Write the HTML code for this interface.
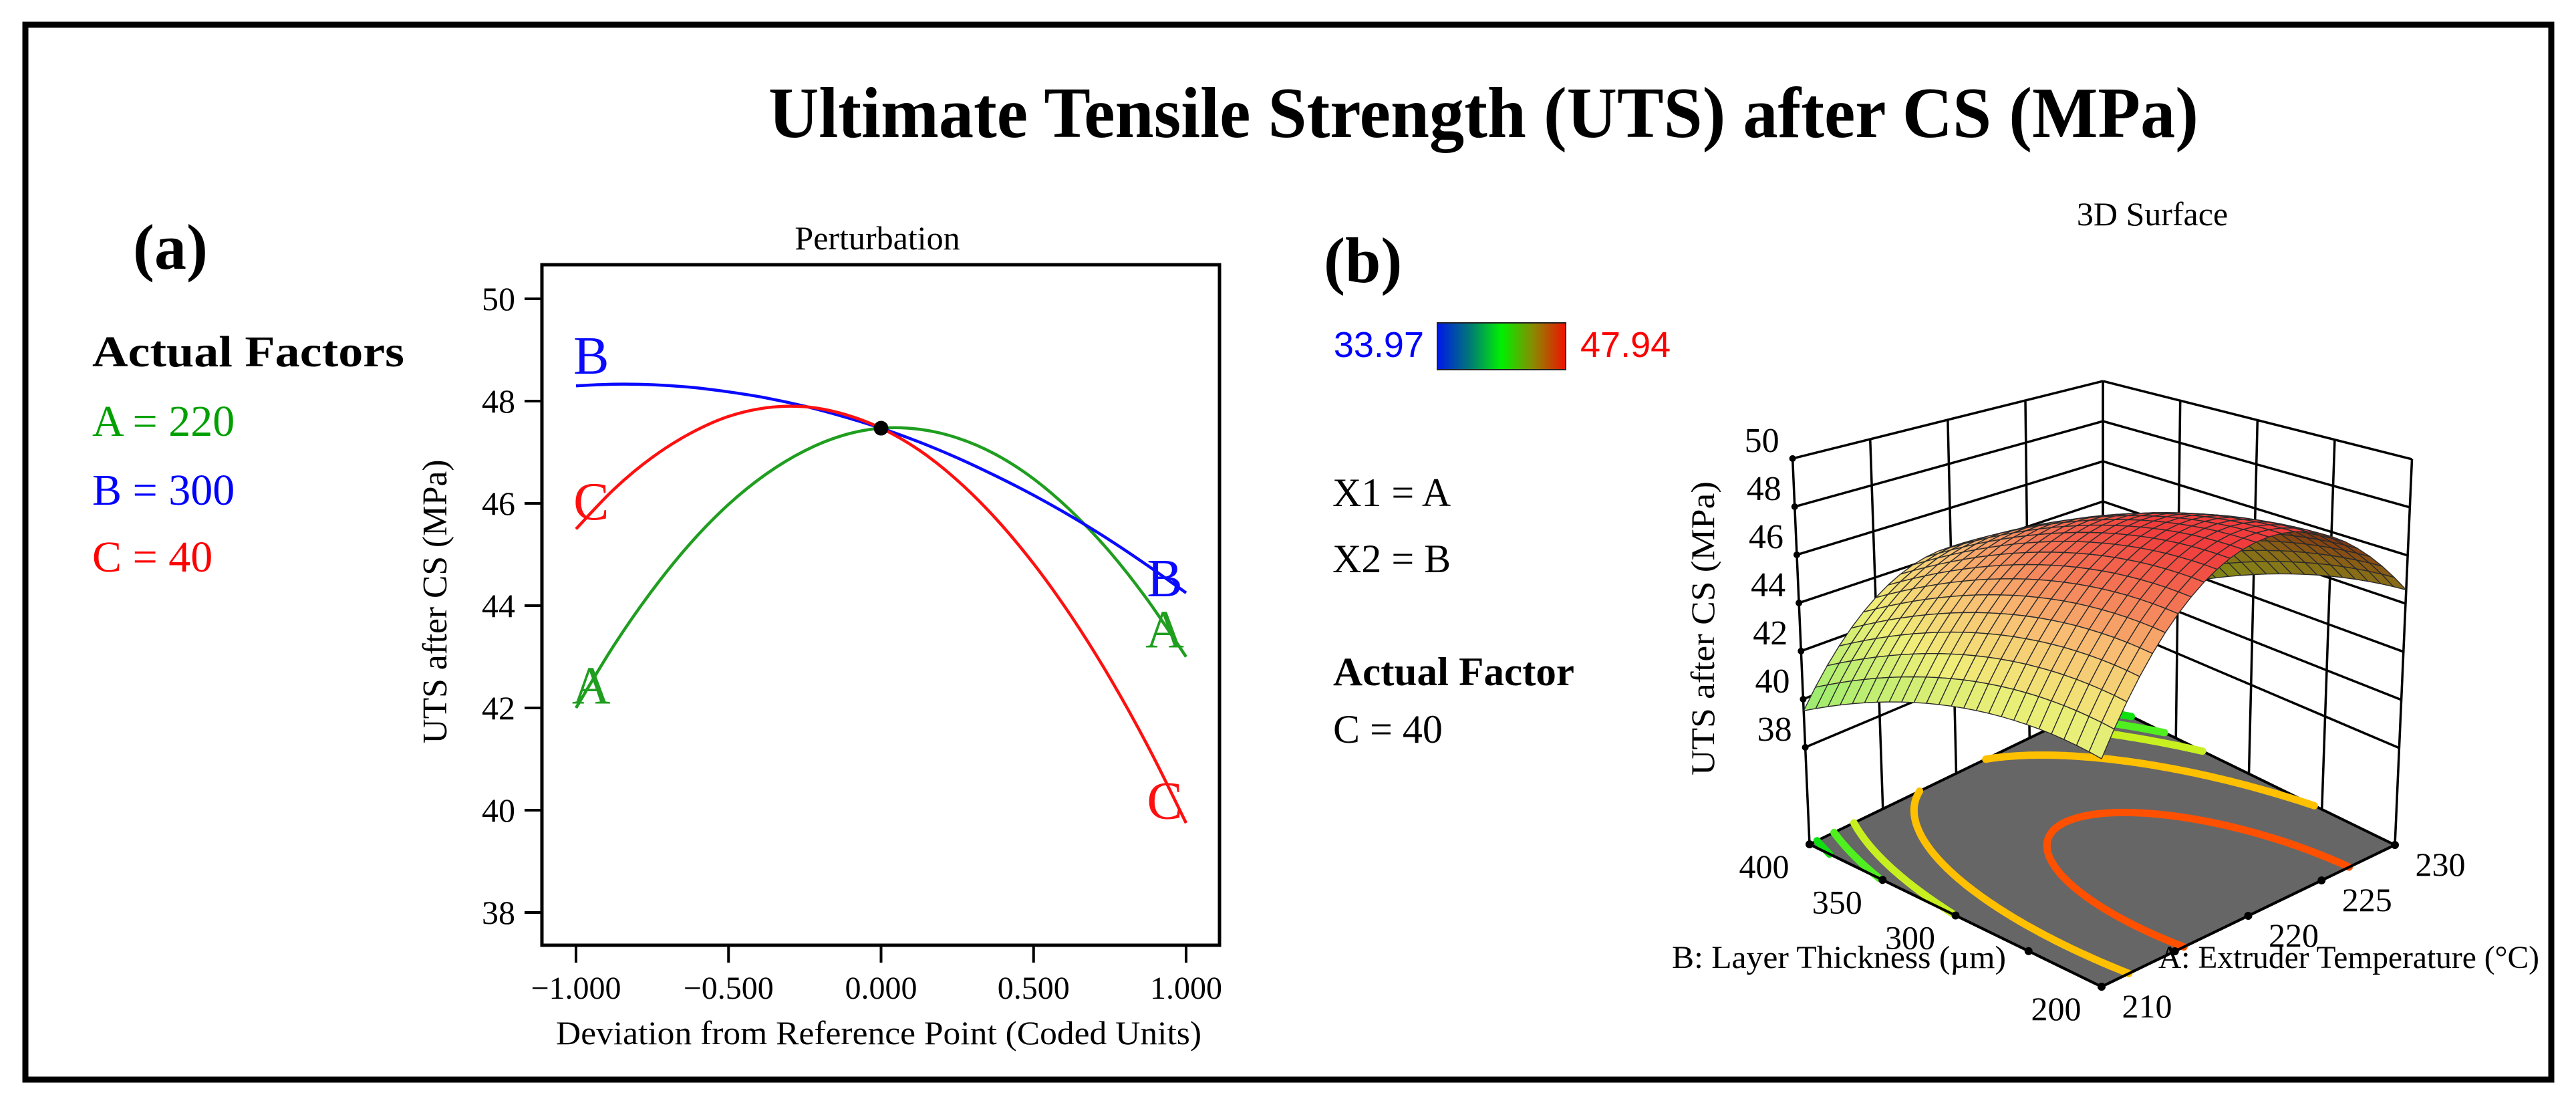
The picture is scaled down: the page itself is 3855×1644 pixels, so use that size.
<!DOCTYPE html>
<html><head><meta charset="utf-8">
<style>
html,body{margin:0;padding:0;background:#fff;}
svg{display:block;}
text{font-family:"Liberation Serif",serif;}
.sans{font-family:"Liberation Sans",sans-serif;}
</style></head>
<body>
<svg id="chart" width="3855" height="1644" viewBox="0 0 3855 1644" xmlns="http://www.w3.org/2000/svg" font-family="Liberation Serif, serif">
<defs>
<linearGradient id="cbar" x1="0" x2="1" y1="0" y2="0">
<stop offset="0" stop-color="#0018e8"/><stop offset="0.25" stop-color="#007878"/><stop offset="0.5" stop-color="#00f000"/><stop offset="0.75" stop-color="#8a8a00"/><stop offset="1" stop-color="#f01000"/>
</linearGradient>
</defs>
<rect x="38" y="37" width="3780" height="1578" fill="#fff" stroke="#000" stroke-width="9"/>
<text x="1150" y="205" font-size="108" font-weight="bold" textLength="2140" lengthAdjust="spacingAndGlyphs">Ultimate Tensile Strength (UTS) after CS (MPa)</text>
<text x="199" y="402" font-size="96" font-weight="bold">(a)</text>
<text x="138" y="548" font-size="66" font-weight="bold" textLength="467" lengthAdjust="spacingAndGlyphs">Actual Factors</text>
<text x="138" y="652" font-size="66" fill="#00a000">A = 220</text>
<text x="138" y="755" font-size="66" fill="#0000ff">B = 300</text>
<text x="138" y="855" font-size="66" fill="#ff0000">C = 40</text>
<text x="1313" y="373" font-size="50" text-anchor="middle">Perturbation</text>
<g id="pert"></g>
<text x="1981" y="422" font-size="96" font-weight="bold">(b)</text>
<text x="3221" y="337" font-size="50" text-anchor="middle">3D Surface</text>
<text class="sans" x="2131" y="534" font-size="54" fill="#0000ff" text-anchor="end">33.97</text>
<rect x="2151" y="483" width="192" height="70" fill="url(#cbar)" stroke="#222" stroke-width="2"/>
<text class="sans" x="2365" y="534" font-size="54" fill="#ff0000">47.94</text>
<text x="1994" y="757" font-size="60">X1 = A</text>
<text x="1994" y="856" font-size="60">X2 = B</text>
<text x="1995" y="1025" font-size="60" font-weight="bold" textLength="361" lengthAdjust="spacingAndGlyphs">Actual Factor</text>
<text x="1995" y="1111" font-size="60">C = 40</text>
<g id="surf"></g>
</svg>
<script>
// ---------- Perturbation data ----------
const devX = [-1,-0.875,-0.75,-0.625,-0.5,-0.375,-0.25,-0.125,0,0.125,0.25,0.375,0.5,0.625,0.75,0.875,1];
const seriesA = [42.00,43.23,44.30,45.22,45.98,46.58,47.03,47.33,47.47,47.45,47.28,46.96,46.48,45.84,45.05,44.10,43.00];
const seriesB = [48.30,48.33,48.32,48.27,48.18,48.06,47.90,47.70,47.47,47.20,46.89,46.54,46.16,45.74,45.28,44.78,44.25];
const seriesC = [45.50,46.28,46.90,47.37,47.70,47.87,47.89,47.75,47.47,47.04,46.45,45.71,44.82,43.78,42.59,41.25,39.75];
const yTicks = [38,40,42,44,46,48,50];
const xTicks = [-1,-0.5,0,0.5,1];
const xTickLabels = ["\u22121.000","\u22120.500","0.000","0.500","1.000"];
const refPoint = [0, 47.47];

// ---------- 3D surface model (coded units) ----------
const modelTerms = ["b0","A","B","AB","A2","B2"];
const modelCoef = [47.47, 0.5, -2.025, -0.74, -4.97, -1.195];
const zTicks = [38,40,42,44,46,48,50];
const aTicks = [210,215,220,225,230];
const aTickLabels = ["210","","220","225","230"];
const bTicks = [200,250,300,350,400];
const bTickLabels = ["200","","300","350","400"];
const contourLevels = [40,41,42,44,46.8];
const contourColors = ["#10e010","#50f020","#c8f020","#ffc000","#ff5000"];
const Z_MIN = 33.97, Z_MAX = 50;

const NS = "http://www.w3.org/2000/svg";
function mk(tag, parent){ const e=document.createElementNS(NS,tag); parent.appendChild(e); return e; }

// ---------- Perturbation plot ----------
const pert = document.getElementById('pert');
const xS = v => 862 + (v+1)*456.5;
const yS = v => 447 + (50-v)*76.5;

const frame = mk('rect', pert);


frame.setAttribute('x',811); frame.setAttribute('y',396); frame.setAttribute('width',1014); frame.setAttribute('height',1018);
frame.setAttribute('fill','none'); frame.setAttribute('stroke','#000'); frame.setAttribute('stroke-width','5');

yTicks.forEach(v=>{
  const t = mk('line', pert);
  
  
  t.setAttribute('x1',785); t.setAttribute('x2',811); t.setAttribute('y1',yS(v)); t.setAttribute('y2',yS(v));
  t.setAttribute('stroke','#000'); t.setAttribute('stroke-width','4');
  const l = mk('text', pert);
  
  
  l.setAttribute('x',771); l.setAttribute('y',yS(v)+17); l.setAttribute('font-size','50'); l.setAttribute('text-anchor','end');
  l.textContent = String(v);
});
xTicks.forEach((v,i)=>{
  const t = mk('line', pert);
  
  
  t.setAttribute('x1',xS(v)); t.setAttribute('x2',xS(v)); t.setAttribute('y1',1414); t.setAttribute('y2',1440);
  t.setAttribute('stroke','#000'); t.setAttribute('stroke-width','4');
  const l = mk('text', pert);
  
  
  l.setAttribute('x',xS(v)); l.setAttribute('y',1494); l.setAttribute('font-size','48'); l.setAttribute('text-anchor','middle');
  l.textContent = xTickLabels[i];
});
const xt = mk('text', pert);


xt.setAttribute('x',1315); xt.setAttribute('y',1562); xt.setAttribute('font-size','50'); xt.setAttribute('text-anchor','middle');
xt.setAttribute('textLength','966'); xt.setAttribute('lengthAdjust','spacingAndGlyphs');
xt.textContent = 'Deviation from Reference Point (Coded Units)';
const yt = mk('text', pert);


yt.setAttribute('transform','translate(668,900) rotate(-90)');
yt.setAttribute('font-size','52'); yt.setAttribute('text-anchor','middle');
yt.setAttribute('textLength','425'); yt.setAttribute('lengthAdjust','spacingAndGlyphs');
yt.textContent = 'UTS after CS (MPa)';

function smoothPath(xs, ys){
  const p = xs.map((x,i)=>[xS(x), yS(ys[i])]);
  let d = 'M'+p[0][0].toFixed(1)+','+p[0][1].toFixed(1);
  for(let i=0;i<p.length-1;i++){
    const p0=p[Math.max(0,i-1)], p1=p[i], p2=p[i+1], p3=p[Math.min(p.length-1,i+2)];
    const c1=[p1[0]+(p2[0]-p0[0])/6, p1[1]+(p2[1]-p0[1])/6];
    const c2=[p2[0]-(p3[0]-p1[0])/6, p2[1]-(p3[1]-p1[1])/6];
    d += ' C'+c1[0].toFixed(1)+','+c1[1].toFixed(1)+' '+c2[0].toFixed(1)+','+c2[1].toFixed(1)+' '+p2[0].toFixed(1)+','+p2[1].toFixed(1);
  }
  return d;
}
const labelOffsets = {A:[0.45,0.55], B:[0.6,0.3], C:[0.55,0.45]};
const seriesList = [[seriesA,'#1f9e1f','curve-a','A'],[seriesB,'#0a0aff','curve-b','B'],[seriesC,'#ff1010','curve-c','C']];
seriesList.forEach(([ys,col,name,lab])=>{
  const pth = mk('path', pert);
  
  
  pth.setAttribute('d', smoothPath(devX, ys));
  pth.setAttribute('fill','none'); pth.setAttribute('stroke',col); pth.setAttribute('stroke-width','4.5');
  [[-0.95, ys[0]], [0.93, ys[ys.length-1]]].forEach(([lx,ly],k)=>{
    const t = mk('text', pert);
    
    
    const off = labelOffsets[lab][k];
    t.setAttribute('x', xS(lx)); t.setAttribute('y', yS(ly+off)+28);
    t.setAttribute('font-size','80'); t.setAttribute('text-anchor','middle'); t.setAttribute('fill',col);
    t.textContent = lab;
  });
});
const dot = mk('circle', pert);


dot.setAttribute('cx', xS(refPoint[0])); dot.setAttribute('cy', yS(refPoint[1])); dot.setAttribute('r','11'); dot.setAttribute('fill','#000');

// ---------- 3D surface ----------
const surf = document.getElementById('surf');
function P(t,s,z){
  const fx = 2708 + 437*s + 439*t;
  const fy = 1263 + 213*s - 212*t;
  const d = ((1-s)+t)/2;
  const zs = 42 - 12*d;
  const h = (z - Z_MIN);
  return [fx + (fx-3145)*0.058*h/16, fy - h*zs];
}
function model(t,s){
  const a = 2*t-1, b = 1-2*s;
  return modelCoef[0]+modelCoef[1]*a+modelCoef[2]*b+modelCoef[3]*a*b+modelCoef[4]*a*a+modelCoef[5]*b*b;
}
const pts = arr => arr.map(p=>p[0].toFixed(1)+','+p[1].toFixed(1)).join(' ');
function line(parent, a, b, name, w, col){
  const l = mk('line', parent);
  
  
  l.setAttribute('x1',a[0]); l.setAttribute('y1',a[1]); l.setAttribute('x2',b[0]); l.setAttribute('y2',b[1]);
  l.setAttribute('stroke', col||'#000'); l.setAttribute('stroke-width', w||3);
  return l;
}
const walls = mk('g', surf);


aTicks.forEach(a=>{ const t=(a-210)/20; line(walls, P(t,0,Z_MIN), P(t,0,Z_MAX), 'wall-gridline-a', 3.5); });
bTicks.forEach(b=>{ const s=(400-b)/200; line(walls, P(1,s,Z_MIN), P(1,s,Z_MAX), 'wall-gridline-b', 3.5); });
zTicks.forEach(z=>{
  line(walls, P(0,0,z), P(1,0,z), 'wall-gridline-z', 3.5);
  line(walls, P(1,0,z), P(1,1,z), 'wall-gridline-z', 3.5);
});
const floor = mk('polygon', surf);


floor.setAttribute('points', pts([P(0,0,Z_MIN),P(0,1,Z_MIN),P(1,1,Z_MIN),P(1,0,Z_MIN)]));
floor.setAttribute('fill','#666'); floor.setAttribute('stroke','#000'); floor.setAttribute('stroke-width','4');
const M = 90;
const grid = [];
for(let i=0;i<=M;i++){ grid.push([]); for(let j=0;j<=M;j++) grid[i].push(model(i/M, j/M)); }
contourLevels.forEach((lv,k)=>{
  let d='';
  for(let i=0;i<M;i++) for(let j=0;j<M;j++){
    const c=[[i,j],[i+1,j],[i+1,j+1],[i,j+1]];
    const v=c.map(q=>grid[q[0]][q[1]]);
    const cr=[];
    for(let e=0;e<4;e++){
      const v0=v[e], v1=v[(e+1)%4];
      if((v0-lv)*(v1-lv)<0){
        const f=(lv-v0)/(v1-v0);
        const t=(c[e][0]+f*(c[(e+1)%4][0]-c[e][0]))/M;
        const s=(c[e][1]+f*(c[(e+1)%4][1]-c[e][1]))/M;
        cr.push(P(t,s,Z_MIN));
      }
    }
    for(let q=0;q+1<cr.length;q+=2) d+='M'+cr[q][0].toFixed(1)+','+cr[q][1].toFixed(1)+'L'+cr[q+1][0].toFixed(1)+','+cr[q+1][1].toFixed(1);
  }
  const p = mk('path', surf);
  
  
  p.setAttribute('d', d); p.setAttribute('fill','none'); p.setAttribute('stroke', contourColors[k]);
  p.setAttribute('stroke-width','11'); p.setAttribute('stroke-linecap','round');
});
line(surf, P(0,0,Z_MIN), P(0,1,Z_MIN), 'b-axis-line', 4);
line(surf, P(0,1,Z_MIN), P(1,1,Z_MIN), 'a-axis-line', 4);
bTicks.forEach((b,i)=>{
  const s=(400-b)/200, q=P(0,s,Z_MIN);
  const c=mk('circle', surf);
  
  
  c.setAttribute('cx',q[0]); c.setAttribute('cy',q[1]); c.setAttribute('r','6');
  if(bTickLabels[i]){
    const t=mk('text', surf);
    
    
    t.setAttribute('x',q[0]-68); t.setAttribute('y',q[1]+50); t.setAttribute('font-size','50'); t.setAttribute('text-anchor','middle');
    t.textContent=bTickLabels[i];
  }
});
aTicks.forEach((a,i)=>{
  const t0=(a-210)/20, q=P(t0,1,Z_MIN);
  const c=mk('circle', surf);
  
  
  c.setAttribute('cx',q[0]); c.setAttribute('cy',q[1]); c.setAttribute('r','6');
  if(aTickLabels[i]){
    const t=mk('text', surf);
    
    
    t.setAttribute('x',q[0]+68); t.setAttribute('y',q[1]+46); t.setAttribute('font-size','50'); t.setAttribute('text-anchor','middle');
    t.textContent=aTickLabels[i];
  }
});
function surfColor(z, back){
  const st=[[38,[110,228,120]],[40.5,[170,238,110]],[43,[240,238,120]],[45,[248,190,115]],[48,[240,60,60]]];
  let c=st[st.length-1][1];
  if(z<=st[0][0]) c=st[0][1];
  else for(let i=0;i<st.length-1;i++){ if(z>=st[i][0]&&z<=st[i+1][0]){ const f=(z-st[i][0])/(st[i+1][0]-st[i][0]); c=st[i][1].map((v,k)=>v+f*(st[i+1][1][k]-v)); break; } }
  if(back){ c=[c[0]*0.55, c[1]*0.55, c[2]*0.2]; }
  return 'rgb('+c.map(v=>Math.round(v)).join(',')+')';
}
const N=24;
const facets=[];
function area(q){ let s=0; for(let i=0;i<q.length;i++){ const a=q[i], b=q[(i+1)%q.length]; s+=a[0]*b[1]-b[0]*a[1]; } return s; }
for(let i=0;i<N;i++) for(let j=0;j<N;j++){
  const c=[[i/N,j/N],[(i+1)/N,j/N],[(i+1)/N,(j+1)/N],[i/N,(j+1)/N]];
  const zs=c.map(q=>model(q[0],q[1]));
  const q=c.map((p,k)=>P(p[0],p[1],zs[k]));
  const tm=(i+0.5)/N, sm=(j+0.5)/N;
  facets.push({q, z:zs.reduce((a,b)=>a+b)/4, d:((1-sm)+tm)/2, ar:area(q), i, j});
}
const refSign = Math.sign(facets.find(f=>f.i===0&&f.j===N-1).ar);
facets.sort((a,b)=>b.d-a.d);
const sg = mk('g', surf);


facets.forEach(f=>{
  const p=mk('polygon', sg);
  
  
  p.setAttribute('points', pts(f.q));
  p.setAttribute('fill', surfColor(f.z, Math.sign(f.ar)!==refSign));
  p.setAttribute('stroke','#2b2b2b'); p.setAttribute('stroke-width','1.4'); p.setAttribute('stroke-linejoin','round');
});
zTicks.forEach(z=>{
  const q=P(0,0,z);
  const c=mk('circle', surf);
  
  
  c.setAttribute('cx',q[0]); c.setAttribute('cy',q[1]); c.setAttribute('r','5');
  const t=mk('text', surf);
  
  
  t.setAttribute('x',q[0]-20); t.setAttribute('y',q[1]-10); t.setAttribute('font-size','52'); t.setAttribute('text-anchor','end');
  t.textContent=String(z);
});
const zt=mk('text', surf);


zt.setAttribute('transform','translate(2565,940) rotate(-90)');
zt.setAttribute('font-size','50'); zt.setAttribute('text-anchor','middle');
zt.setAttribute('textLength','440'); zt.setAttribute('lengthAdjust','spacingAndGlyphs');
zt.textContent='UTS after CS (MPa)';
const bt=mk('text', surf);


bt.setAttribute('x','2752'); bt.setAttribute('y','1448'); bt.setAttribute('font-size','48'); bt.setAttribute('text-anchor','middle');
bt.setAttribute('textLength','500'); bt.setAttribute('lengthAdjust','spacingAndGlyphs');
bt.textContent='B: Layer Thickness  (\u00b5m)';
const at=mk('text', surf);


at.setAttribute('x','3515'); at.setAttribute('y','1448'); at.setAttribute('font-size','48'); at.setAttribute('text-anchor','middle');
at.setAttribute('textLength','570'); at.setAttribute('lengthAdjust','spacingAndGlyphs');
at.textContent='A: Extruder Temperature (\u00b0C)';
</script>
</body></html>
